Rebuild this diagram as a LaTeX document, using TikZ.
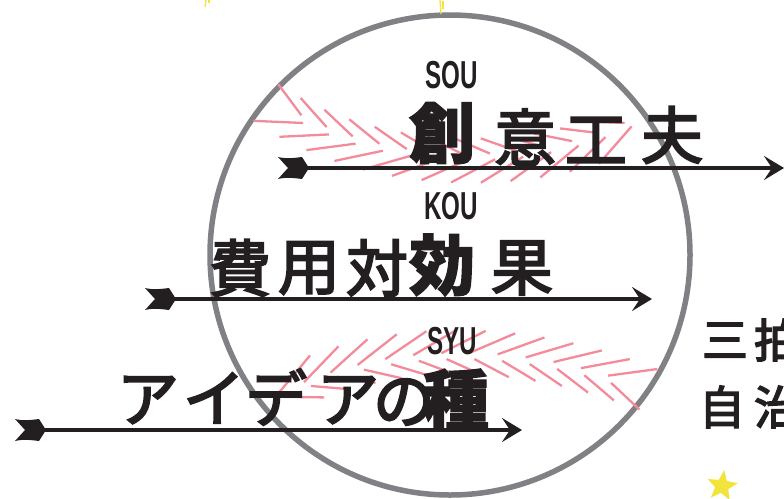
\documentclass[tikz,border=0pt]{standalone}
\usepackage{fontspec}
\newfontfamily\cjkbrush[FakeBold=3.2]{Noto Sans CJK JP}
\newfontfamily\cjkblack[BoldFeatures={FakeBold=2}]{Noto Sans CJK JP}
\setsansfont{Liberation Sans}
\usetikzlibrary{decorations.markings,arrows.meta,shapes.geometric}
\definecolor{ink}{HTML}{231F20}
\definecolor{ringgray}{HTML}{808184}
\definecolor{featherpink}{HTML}{F38B9B}
\definecolor{staryellow}{HTML}{F2E43A}
\newcommand\chevronmark{%
  \draw[feather] (5,3) -- (-40,24);
  \draw[feather] (0,-3) -- (-35,-20);}
\tikzset{
  ring/.style={draw=ringgray, line width=5.5pt},
  feather/.style={draw=featherpink, line width=2.3pt},
  featherband/.style={decorate, decoration={markings, mark=between positions 0 and 1 step 28pt with {\chevronmark}}},
  shaft/.style={draw=ink, line width=3.6pt, -{Stealth[length=20pt,width=24pt,inset=8pt]}},
  fletch/.style={fill=ink, draw=none},
  brush/.style={font=\cjkbrush\fontsize{62}{62}\selectfont, text=ink, inner sep=0pt},
  strong/.style={font=\cjkblack\bfseries\fontsize{66}{66}\selectfont, text=ink, inner sep=0pt},
  side/.style={font=\cjkbrush\fontsize{46}{46}\selectfont, text=ink, inner sep=0pt},
  reading/.style={font=\sffamily\bfseries\fontsize{39}{39}\selectfont, text=ink, inner sep=0pt},
  spark/.style={draw=staryellow, line width=1.3pt}
}
\newcommand\fletching[1]{%
  \fill[fletch, shift={(#1)}] (0,-11) .. controls (8,-9) and (16,-10) .. (24,-11) -- (31,0) -- (24,11) .. controls (16,10) and (8,9) .. (0,11) -- (10,0) -- cycle;}
\begin{document}
\begin{tikzpicture}[x=1pt,y=-1pt]
\useasboundingbox (0,0) rectangle (784,498);
\clip (0,0) rectangle (784,498);
% ring
\draw[ring] (450,255) circle[radius=240];
% feather bands
\path[featherband] (300,118) .. controls (400,170) and (540,170) .. (642,118);
\path[featherband] (612,380) .. controls (500,345) and (380,345) .. (272,400);
% arrows
\coordinate (s1) at (278,168); \coordinate (e1) at (784,168);
\coordinate (s2) at (145,299); \coordinate (e2) at (652,299);
\coordinate (s3) at (15,430);  \coordinate (e3) at (522,430);
\draw[shaft] ([xshift=20pt]s1) -- (e1);
\draw[shaft] ([xshift=20pt]s2) -- (e2);
\draw[shaft] ([xshift=20pt]s3) -- (e3);
\fletching{s1}
\fletching{s2}
\fletching{s3}
% row 1
\node[reading] (sou) at (452,75) {\scalebox{0.62}[1]{SOU}};
\node[strong] (c11) at (442,133) {創};
\node[brush] (c12) at (525,137) {意};
\node[brush] (c13) at (596,140) {工};
\node[brush] (c14) at (672,135) {夫};
% row 2
\node[reading] (kou) at (451,206) {\scalebox{0.62}[1]{KOU}};
\node[brush] (c21) at (240,268) {費};
\node[brush] (c22) at (309,268) {用};
\node[brush] (c23) at (377,268) {対};
\node[strong] (c24) at (442,265) {効};
\node[brush] (c25) at (522,268) {果};
% row 3
\node[reading] (syu) at (452,341) {\scalebox{0.62}[1]{SYU}};
\node[brush] (c31) at (148,400) {ア};
\node[brush] (c32) at (214,398) {イ};
\node[brush] (c33) at (276,397) {デ};
\node[brush] (c34) at (348,400) {ア};
\node[brush] (c35) at (404,402) {の};
\node[strong] (c36) at (456,400) {種};
% side text
\node[side] (d11) at (725,340) {三};
\node[side] (d12) at (777,340) {拍};
\node[side] (d21) at (722,407) {自};
\node[side] (d22) at (777,407) {治};
% star and sparks
\node[star, star points=5, star point ratio=2.3, fill=staryellow, minimum size=32pt, inner sep=0pt, rotate=-8] (star) at (722,486) {};
\draw[spark] (206,0) -- (205,7);
\draw[spark] (209,0) -- (209,3);
\draw[spark] (440,0) -- (441,14);
\draw[spark] (443,1) -- (443,9);
\end{tikzpicture}
\end{document}
